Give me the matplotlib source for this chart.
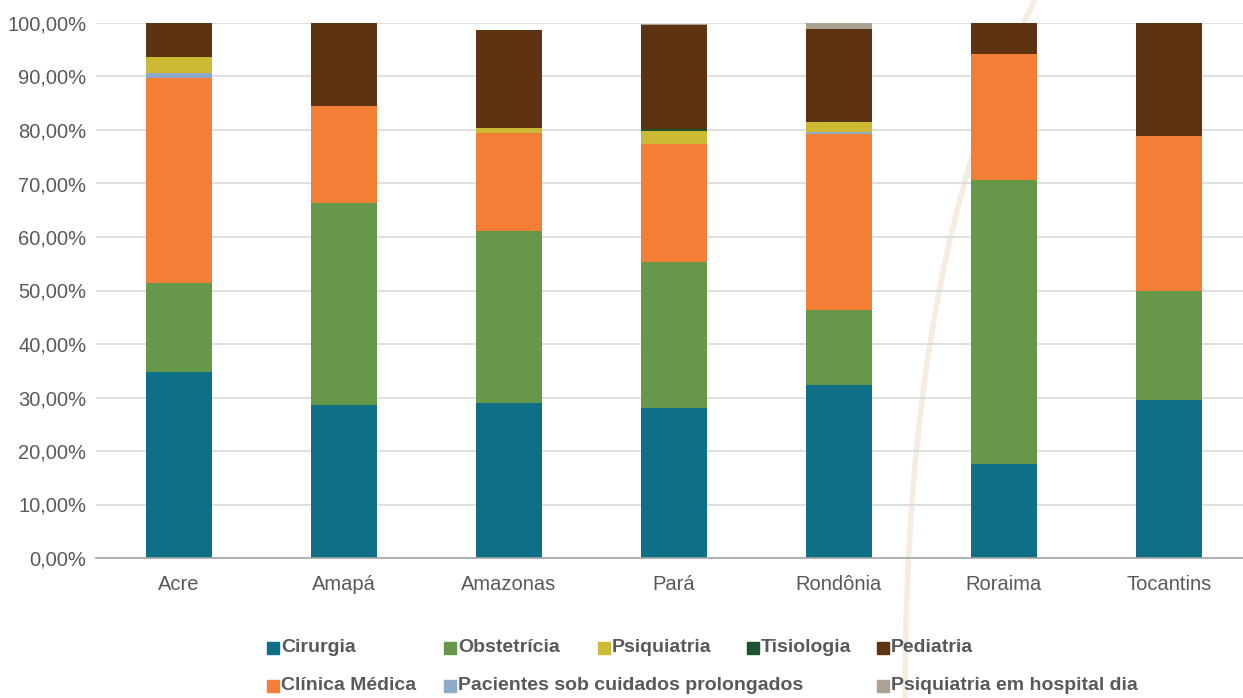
import numpy as np
import matplotlib
matplotlib.use("Agg")
import matplotlib.pyplot as plt
from matplotlib.path import Path
from matplotlib.patches import PathPatch, Rectangle

plt.rcParams["font.family"] = ["Liberation Sans", "DejaVu Sans"]

# ── dados (% das internações por especialidade) ───────────────
estados = ["Acre", "Amapá", "Amazonas", "Pará", "Rondônia", "Roraima", "Tocantins"]

cirurgia    = [34.8, 28.6, 29.0, 28.0, 32.3, 17.6, 29.5]
obstetricia = [16.6, 37.8, 32.1, 27.3, 14.1, 53.1, 20.4]
clinica     = [38.3, 18.0, 18.3, 22.0, 32.8, 23.5, 28.9]
pacientes   = [0.9, 0.0, 0.0, 0.0, 0.5, 0.0, 0.0]
psiquiatria = [3.0, 0.0, 1.0, 2.6, 1.8, 0.0, 0.0]
tisiologia  = [0.0, 0.0, 0.0, 0.3, 0.0, 0.0, 0.0]
pediatria   = [6.4, 15.6, 18.3, 19.4, 17.4, 5.8, 21.2]
psiq_dia    = [0.0, 0.0, 0.0, 0.3, 1.1, 0.0, 0.0]

y_ticks = [0, 10, 20, 30, 40, 50, 60, 70, 80, 90, 100]

# ordem de empilhamento (de baixo para cima)
series = [
    ("Cirurgia", cirurgia, "#0E6F87"),
    ("Obstetrícia", obstetricia, "#67984A"),
    ("Clínica Médica", clinica, "#F37E35"),
    ("Pacientes sob cuidados prolongados", pacientes, "#8FAAC8"),
    ("Psiquiatria", psiquiatria, "#CDBA34"),
    ("Tisiologia", tisiologia, "#1B5230"),
    ("Pediatria", pediatria, "#5E3311"),
    ("Psiquiatria em hospital dia", psiq_dia, "#ACA292"),
]
cores = {nome: c for nome, _, c in series}

fig = plt.figure(figsize=(12.43, 6.98), dpi=100)

# arco decorativo de fundo
verts = [(1035 / 1243, 1.0), (905 / 1243, 1 - 250 / 698), (905 / 1243, 0.0)]
arco = PathPatch(Path(verts, [Path.MOVETO, Path.CURVE3, Path.CURVE3]),
                 transform=fig.transFigure, facecolor="none",
                 edgecolor="#F5ECE2", linewidth=4, zorder=-5)
fig.patches.append(arco)

ax = fig.add_axes([96 / 1243, 140 / 698, (1243 - 96) / 1243, (558 - 23) / 698])
ax.patch.set_alpha(0)
ax.set_zorder(2)

x = np.arange(len(estados))
base = np.zeros(len(estados))
for nome, vals, cor in series:
    vals = np.array(vals)
    ax.bar(x, vals, 0.4, bottom=base, color=cor, zorder=3)
    base += vals

ax.set_xlim(-0.5, 6.448)
ax.set_ylim(0, 100)
ax.set_yticks(y_ticks)
ax.set_yticklabels([f"{v},00%" for v in y_ticks])
ax.set_xticks(x)
ax.set_xticklabels(estados)
ax.tick_params(axis="both", length=0, labelsize=14.5, colors="#595959")
ax.tick_params(axis="x", pad=12)
ax.tick_params(axis="y", pad=7)
ax.grid(axis="y", color="#D9D9D9", linewidth=1.2, zorder=1)
for s in ["top", "right", "left"]:
    ax.spines[s].set_visible(False)
ax.spines["bottom"].set_color("#A6A6A6")
ax.spines["bottom"].set_linewidth(1.2)
ax.spines["bottom"].set_zorder(4)

# legenda em duas linhas (como no Excel)
legenda = [
    ("Cirurgia", 267, 648), ("Obstetrícia", 444, 648), ("Psiquiatria", 598, 648),
    ("Tisiologia", 747, 648), ("Pediatria", 877, 648),
    ("Clínica Médica", 267, 686), ("Pacientes sob cuidados prolongados", 444, 686),
    ("Psiquiatria em hospital dia", 877, 686),
]
for nome, px, py in legenda:
    fig.patches.append(Rectangle((px / 1243, 1 - (py + 6) / 698), 12 / 1243, 12 / 698,
                                 transform=fig.transFigure, color=cores[nome]))
    fig.text((px + 14) / 1243, 1 - py / 698, nome, ha="left", va="center",
             fontsize=14, fontweight="bold", color="#595959")

fig.savefig("out.png", dpi=100)
